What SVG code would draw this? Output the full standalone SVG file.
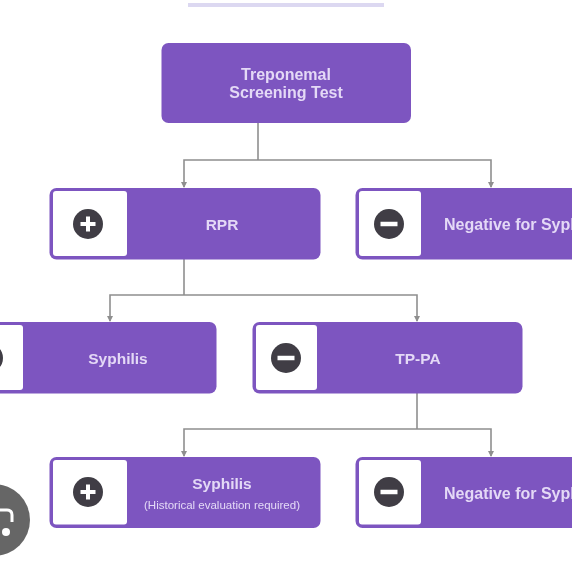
<svg xmlns="http://www.w3.org/2000/svg" width="572" height="572" viewBox="0 0 572 572">
<defs>
<filter id="soft" x="-5%" y="-5%" width="110%" height="110%"><feGaussianBlur stdDeviation="0.45"/></filter>
<g id="plus"><circle r="15" fill="#3f3d44"/><path d="M-7.500 0H7.500M0-7.500V7.500" stroke="#fff" stroke-width="4"/></g>
<g id="minus"><circle r="15" fill="#3f3d44"/><path d="M-8.500 0H8.500" stroke="#fff" stroke-width="4.500"/></g>
</defs>
<style>
.f{filter:url(#soft)}
.box{fill:#7d55c0}
.win{fill:#fff}
.t{font-family:"Liberation Sans",Arial,sans-serif;font-weight:700;font-size:16px;fill:#e4d9f6;text-anchor:middle}
.m{font-size:15.500px}
.s{font-size:11.500px;font-weight:400}
.c{fill:none;stroke:#8f8f8f;stroke-width:1.600}
.h{fill:#8f8f8f}
</style>
<rect class="f" x="188" y="3" width="196" height="4" fill="#dcd8f1"/>
<g id="connectors" class="f">
<path class="c" d="M258 123V160"/>
<path class="c" d="M184 187V160H491V187"/>
<path class="c" d="M184 259V295"/>
<path class="c" d="M110 321V295H417V321"/>
<path class="c" d="M417 393V429"/>
<path class="c" d="M184 456V429H491V456"/>
<path class="h" d="M181 182H187L184 188ZM488 182H494L491 188ZM107 316H113L110 322ZM414 316H420L417 322ZM181 451H187L184 457ZM488 451H494L491 457Z"/>
</g>
<g id="node-screening" class="f">
<rect class="box" x="161.500" y="43" width="249.500" height="80" rx="7"/>
<text class="t" x="286" y="80">Treponemal</text>
<text class="t" x="286" y="98">Screening Test</text>
</g>
<g id="node-rpr" class="f">
<rect class="box" x="49.500" y="188" width="271" height="71.500" rx="7"/>
<rect class="win" x="53" y="191" width="74" height="65" rx="3"/>
<use href="#plus" x="88" y="224"/>
<text class="t m" x="222" y="230">RPR</text>
</g>
<g id="node-negative-1" class="f">
<rect class="box" x="355.500" y="188" width="240" height="71.500" rx="7"/>
<rect class="win" x="359" y="191" width="62" height="65" rx="3"/>
<use href="#minus" x="389" y="224"/>
<text class="t" x="444" y="230" style="text-anchor:start">Negative for Syphilis</text>
</g>
<g id="node-syphilis" class="f">
<rect class="box" x="-40" y="322" width="256.500" height="71.500" rx="7"/>
<rect class="win" x="-30" y="325" width="53" height="65" rx="3"/>
<circle cx="-12" cy="358" r="15" fill="#3f3d44"/>
<text class="t m" x="118" y="364">Syphilis</text>
</g>
<g id="node-tppa" class="f">
<rect class="box" x="252.500" y="322" width="270" height="71.500" rx="7"/>
<rect class="win" x="256" y="325" width="61" height="65" rx="3"/>
<use href="#minus" x="286" y="358"/>
<text class="t m" x="418" y="364">TP-PA</text>
</g>
<g id="node-syphilis-2" class="f">
<rect class="box" x="49.500" y="457" width="271" height="71" rx="7"/>
<rect class="win" x="53" y="460" width="74" height="64.500" rx="3"/>
<use href="#plus" x="88" y="492"/>
<text class="t m" x="222" y="489">Syphilis</text>
<text class="t s" x="222" y="509">(Historical evaluation required)</text>
</g>
<g id="node-negative-2" class="f">
<rect class="box" x="355.500" y="457" width="240" height="71" rx="7"/>
<rect class="win" x="359" y="460" width="62" height="64.500" rx="3"/>
<use href="#minus" x="389" y="492"/>
<text class="t" x="444" y="499" style="text-anchor:start">Negative for Syphilis</text>
</g>
<g id="badge" class="f">
<circle cx="-6" cy="520" r="36" fill="#666"/>
<path d="M-3 510H7Q12 510 12 515V522" fill="none" stroke="#fff" stroke-width="3"/>
<circle cx="6" cy="532" r="4" fill="#fff"/>
</g>
</svg>
